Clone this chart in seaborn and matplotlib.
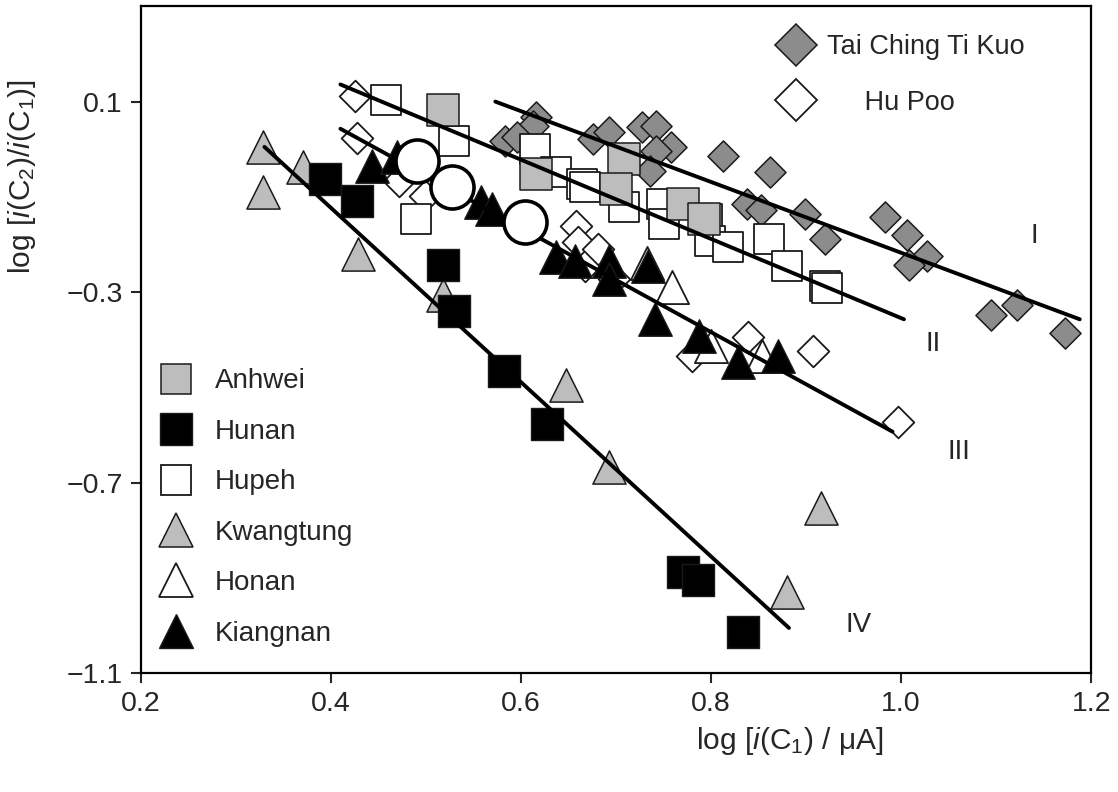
import matplotlib
matplotlib.use("Agg")
import matplotlib.pyplot as plt
from matplotlib.lines import Line2D
import seaborn as sns

# ---------------- data ----------------
tai_x = [0.616, 0.613, 0.583, 0.596, 0.676, 0.693, 0.727, 0.742, 0.758, 0.742, 0.736, 0.813,
         0.862, 0.838, 0.853, 0.899, 0.920, 0.983, 1.006, 1.027, 1.008, 1.095, 1.122, 1.172]
tai_y = [0.068, 0.049, 0.018, 0.026, 0.022, 0.037, 0.047, 0.049, 0.005, -0.003, -0.045, -0.014,
         -0.047, -0.115, -0.127, -0.136, -0.188, -0.142, -0.180, -0.224, -0.243, -0.348, -0.327, -0.386]

hupoo_x = [0.425, 0.427, 0.472, 0.499, 0.658, 0.660, 0.667, 0.681, 0.698, 0.780, 0.839, 0.907, 0.997]
hupoo_y = [0.111, 0.024, -0.066, -0.098, -0.161, -0.195, -0.245, -0.209, -0.273, -0.435, -0.395, -0.424, -0.572]

honan_x = [0.733, 0.759, 0.800, 0.854]
honan_y = [-0.239, -0.289, -0.414, -0.435]

hupeh_x = [0.458, 0.530, 0.489, 0.615, 0.637, 0.664, 0.667, 0.708, 0.748, 0.750, 0.796, 0.799,
           0.818, 0.861, 0.880, 0.920, 0.922]
hupeh_y = [0.104, 0.018, -0.146, 0.001, -0.047, -0.073, -0.079, -0.121, -0.115, -0.157, -0.146, -0.193,
           -0.205, -0.188, -0.245, -0.287, -0.292]

anhwei_x = [0.518, 0.616, 0.708, 0.700, 0.770, 0.793]
anhwei_y = [0.083, -0.052, -0.020, -0.083, -0.115, -0.146]

kwang_x = [0.328, 0.328, 0.371, 0.428, 0.518, 0.647, 0.693, 0.916, 0.880]
kwang_y = [0.005, -0.089, -0.037, -0.220, -0.306, -0.494, -0.668, -0.753, -0.929]

hunan_x = [0.394, 0.427, 0.518, 0.530, 0.582, 0.627, 0.771, 0.786, 0.834]
hunan_y = [-0.062, -0.108, -0.243, -0.340, -0.466, -0.576, -0.887, -0.904, -1.014]

kiang_x = [0.443, 0.470, 0.558, 0.569, 0.637, 0.657, 0.693, 0.693, 0.734, 0.741, 0.787, 0.828, 0.870]
kiang_y = [-0.035, -0.016, -0.111, -0.125, -0.226, -0.235, -0.235, -0.273, -0.245, -0.357, -0.393, -0.447, -0.435]

circ_x = [0.491, 0.527, 0.604]
circ_y = [-0.024, -0.079, -0.153]

line_names = ["I", "II", "III", "IV"]
line_x = [[0.573, 1.188], [0.410, 1.003], [0.410, 0.991], [0.330, 0.882]]
line_y = [[0.100, -0.357], [0.136, -0.357], [0.043, -0.593], [0.005, -1.005]]
label_x = [1.140, 1.034, 1.061, 0.955]
label_y = [-0.182, -0.409, -0.635, -0.999]

xticks = [0.2, 0.4, 0.6, 0.8, 1.0, 1.2]
xticklabels = ["0.2", "0.4", "0.6", "0.8", "1.0", "1.2"]
yticks = [0.1, -0.3, -0.7, -1.1]
yticklabels = ["0.1", "\u22120.3", "\u22120.7", "\u22121.1"]

# ---------------- style ----------------
sns.set_style("white")
plt.rcParams["font.family"] = ["Liberation Sans", "DejaVu Sans"]
plt.rcParams["mathtext.fontset"] = "custom"
plt.rcParams["mathtext.rm"] = "Liberation Sans"
plt.rcParams["mathtext.it"] = "Liberation Sans:italic"

EDGE = "#1a1a1a"
DARKGRAY = "#8c8c8c"
LIGHTGRAY = "#bdbdbd"

fig = plt.figure(figsize=(11.18, 7.92), dpi=100)
ax = fig.add_axes([0.126, 0.150, 0.850, 0.842])

def pts(x, y, marker, s, face, lw=1.0, z=3):
    sns.scatterplot(x=x, y=y, marker=marker, s=s, color=face, edgecolor=EDGE,
                    linewidth=lw, ax=ax, zorder=z, legend=False)

pts(tai_x, tai_y, "D", 250, DARKGRAY, 1.1, 2)
pts(hupoo_x, hupoo_y, "D", 260, "white", 1.3, 2.1)
pts(honan_x, honan_y, "^", 570, "white", 1.3, 2.2)
pts(hupeh_x, hupeh_y, "s", 490, "white", 1.3, 2.3)
pts(anhwei_x, anhwei_y, "s", 510, LIGHTGRAY, 1.1, 2.4)
pts(kwang_x, kwang_y, "^", 570, LIGHTGRAY, 1.1, 2.5)
pts(hunan_x, hunan_y, "s", 540, "black", 1.0, 2.6)
pts(kiang_x, kiang_y, "^", 580, "black", 1.0, 2.7)

for lx, ly in zip(line_x, line_y):
    sns.lineplot(x=lx, y=ly, color="black", linewidth=2.8, ax=ax, zorder=4,
                 estimator=None, sort=False)

sns.scatterplot(x=circ_x, y=circ_y, marker="o", s=960, color="white", edgecolor="black",
                linewidth=2.6, ax=ax, zorder=5, legend=False)

for name, tx, ty in zip(line_names, label_x, label_y):
    ax.text(tx, ty, name, fontsize=20, ha="center", va="center", zorder=6)

# axes
ax.set_xlim(0.2, 1.2)
ax.set_ylim(-1.1, 0.3)
ax.set_xticks(xticks)
ax.set_xticklabels(xticklabels)
ax.set_yticks(yticks)
ax.set_yticklabels(yticklabels)
ax.tick_params(axis="both", direction="out", length=7, width=1.5, labelsize=20.5,
               bottom=True, left=True, top=False, right=False, pad=6)
for sp in ax.spines.values():
    sp.set_color("black")
    sp.set_linewidth(1.6)
ax.grid(False)

ax.set_xlabel("log [$i$(C$_1$) / \u03bcA]", fontsize=21.5)
ax.xaxis.set_label_coords(0.683, -0.078)
ax.set_ylabel(r"log [$i$(C$_2$)/$i$(C$_1$)]", fontsize=21.5)
ax.yaxis.set_label_coords(-0.108, 0.745)

# legends
def h(marker, face, ms, mew=1.1):
    return Line2D([], [], linestyle="none", marker=marker, markersize=ms,
                  markerfacecolor=face, markeredgecolor=EDGE, markeredgewidth=mew)

top_handles = [h("D", DARKGRAY, 21), h("D", "white", 21, 1.3)]
top_labels = ["Tai Ching Ti Kuo", "     Hu Poo"]
leg1 = ax.legend(top_handles, top_labels, loc="upper left", bbox_to_anchor=(0.672, 0.958),
                 frameon=False, fontsize=19.5, handlelength=1.2, handletextpad=0.55,
                 labelspacing=1.08, borderpad=0, borderaxespad=0)
ax.add_artist(leg1)

bl_handles = [h("s", LIGHTGRAY, 21), h("s", "black", 23, 1.0), h("s", "white", 21, 1.3),
              h("^", LIGHTGRAY, 25), h("^", "white", 25, 1.3), h("^", "black", 25, 1.0)]
bl_labels = ["Anhwei", "Hunan", "Hupeh", "Kwangtung", "Honan", "Kiangnan"]
ax.legend(bl_handles, bl_labels, loc="upper left", bbox_to_anchor=(0.019, 0.457),
          frameon=False, fontsize=20, handlelength=1.2, handletextpad=0.8,
          labelspacing=0.88, borderpad=0, borderaxespad=0)

fig.savefig("out.png", dpi=100)
